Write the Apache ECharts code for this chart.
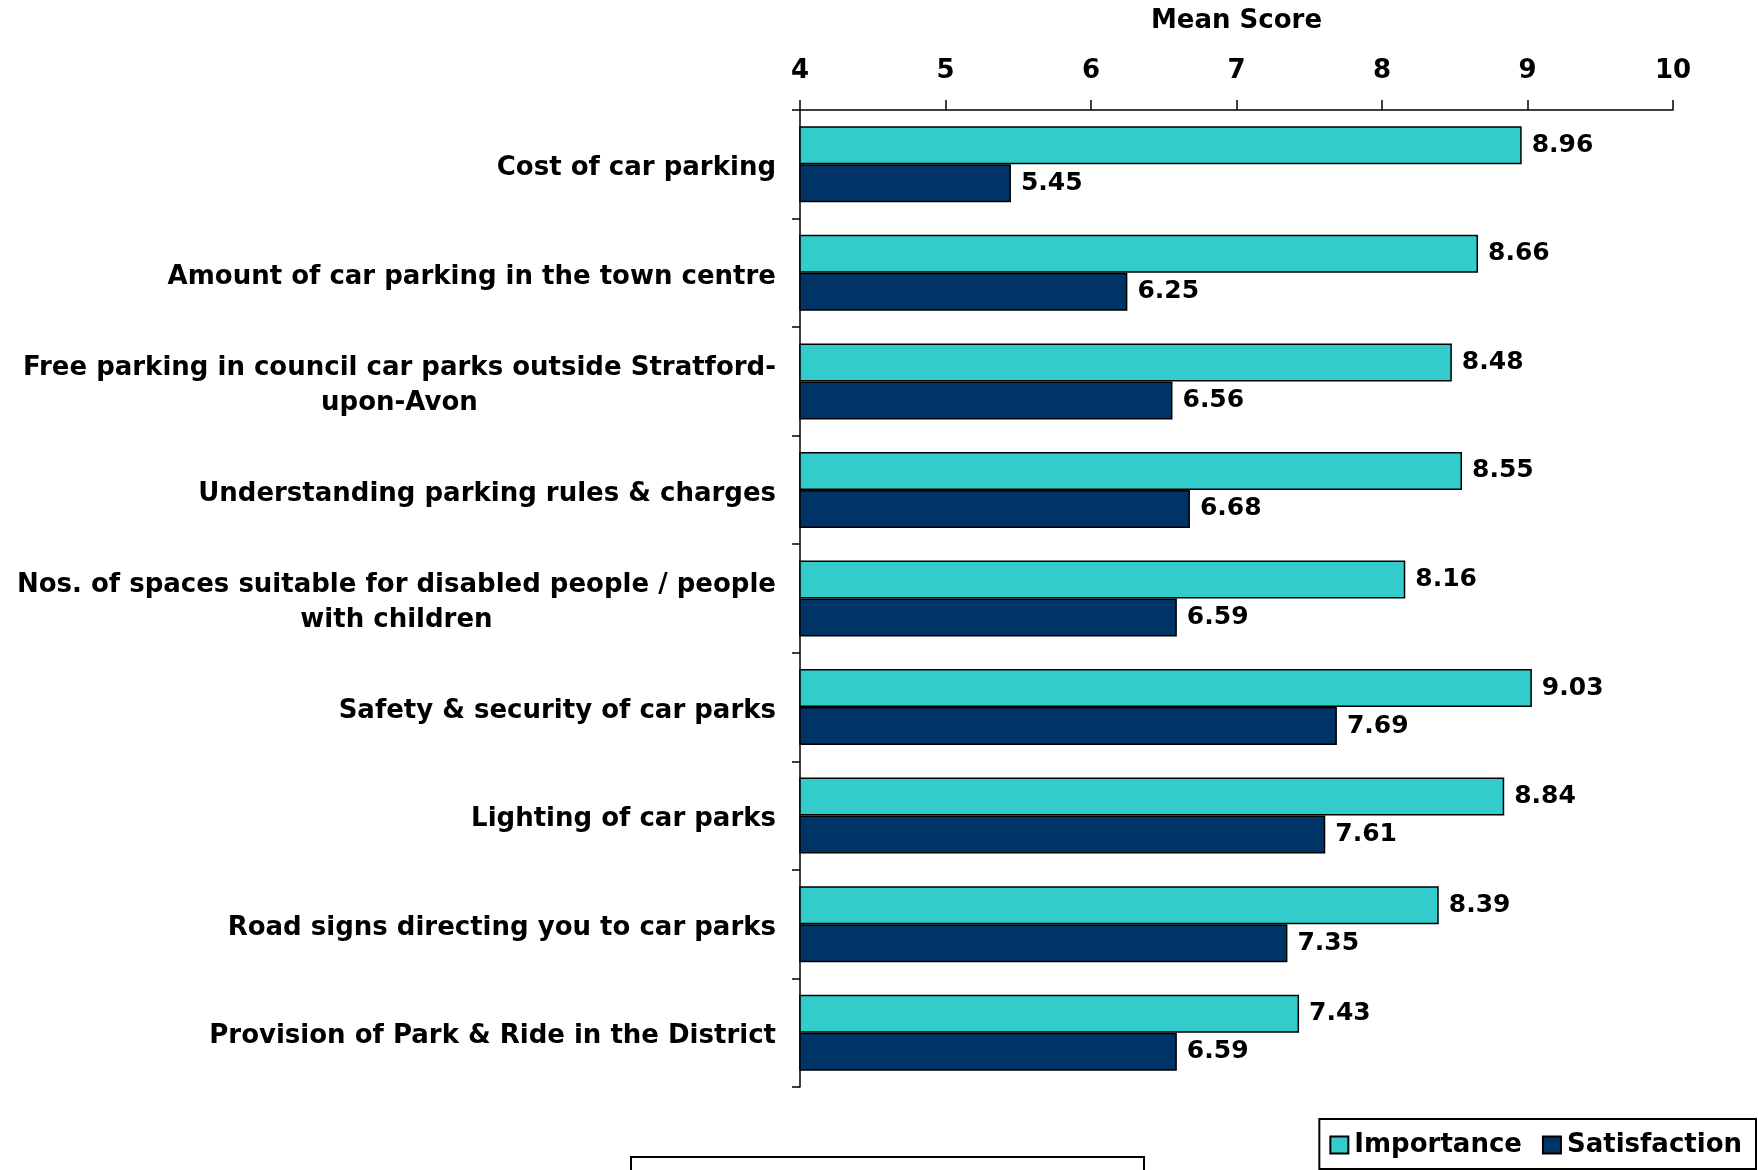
<!DOCTYPE html>
<html>
<head>
<meta charset="utf-8">
<script src="https://cdn.jsdelivr.net/npm/echarts@6/dist/echarts.min.js"></script>
<style>
  html, body { margin: 0; padding: 0; background: #fff; }
  #chart { width: 1758px; height: 1170px; }
</style>
</head>
<body>
<div id="chart"></div>
<script>
// Parking survey: mean importance vs satisfaction scores
const categories = [
  'Cost of car parking',
  'Amount of car parking in the town centre',
  'Free parking in council car parks outside Stratford-\nupon-Avon',
  'Understanding parking rules & charges',
  'Nos. of spaces suitable for disabled people / people\nwith children',
  'Safety & security of car parks',
  'Lighting of car parks',
  'Road signs directing you to car parks',
  'Provision of Park & Ride in the District'
];
const importance   = [8.96, 8.66, 8.48, 8.55, 8.16, 9.03, 8.84, 8.39, 7.43];
const satisfaction = [5.45, 6.25, 6.56, 6.68, 6.59, 7.69, 7.61, 7.35, 6.59];
const axisTicks = [4, 5, 6, 7, 8, 9, 10];

const FONT = '"DejaVu Sans", Verdana, sans-serif';
const chart = echarts.init(document.getElementById('chart'), null, { renderer: 'canvas' });

const labelStyle = {
  show: true,
  position: 'right',
  distance: 10,
  color: '#000',
  fontFamily: FONT,
  fontWeight: 'bold',
  fontSize: 25,
  formatter: p => p.value.toFixed(2)
};

chart.setOption({
  animation: false,
  backgroundColor: '#fff',
  textStyle: { fontFamily: FONT },
  grid: { left: 800, right: 85, top: 110, bottom: 83, outerBoundsMode: 'none', containLabel: false },
  xAxis: {
    type: 'value',
    position: 'top',
    min: axisTicks[0],
    max: axisTicks[axisTicks.length - 1],
    interval: 1,
    name: 'Mean Score',
    nameLocation: 'middle',
    nameGap: 76,
    nameTextStyle: { color: '#000', fontWeight: 'bold', fontSize: 26, fontFamily: FONT },
    axisLine: { show: true, lineStyle: { color: '#000', width: 1.5 } },
    axisTick: { show: true, inside: false, length: 10, lineStyle: { color: '#000', width: 1.5 } },
    axisLabel: { color: '#000', fontWeight: 'bold', fontSize: 26, fontFamily: FONT, margin: 26 },
    splitLine: { show: false }
  },
  yAxis: {
    type: 'category',
    inverse: true,
    data: categories,
    axisLine: { show: true, lineStyle: { color: '#000', width: 1.5 } },
    axisTick: { show: true, length: 8, alignWithLabel: false, lineStyle: { color: '#000', width: 1.5 } },
    axisLabel: {
      margin: 24,
      padding: [8, 0, 0, 0],
      color: '#000',
      fontWeight: 'bold',
      fontSize: 26,
      fontFamily: FONT,
      lineHeight: 35,
      formatter: v => v.split('\n').map(s => '{c|' + s + '}').join('\n'),
      rich: { c: { align: 'center', fontWeight: 'bold', fontSize: 26, fontFamily: FONT, color: '#000', lineHeight: 35 } }
    }
  },
  legend: {
    show: true,
    right: 2,
    top: 1119,
    orient: 'horizontal',
    icon: 'rect',
    itemWidth: 18,
    itemHeight: 17,
    itemGap: 20,
    padding: [13, 14, 11, 10],
    borderColor: '#000',
    borderWidth: 2,
    textStyle: { color: '#000', fontWeight: 'bold', fontSize: 26, fontFamily: FONT, padding: [0, 0, 0, 1] },
    data: ['Importance', 'Satisfaction']
  },
  graphic: [{
    type: 'rect',
    shape: { x: 631, y: 1157, width: 513, height: 30 },
    style: { fill: '#fff', stroke: '#000', lineWidth: 2 }
  }],
  series: [
    {
      name: 'Importance',
      type: 'bar',
      data: importance,
      barGap: '0%',
      barCategoryGap: '30%',
      itemStyle: { color: '#33CCCC', borderColor: '#000', borderWidth: 1.5 },
      label: labelStyle
    },
    {
      name: 'Satisfaction',
      type: 'bar',
      data: satisfaction,
      itemStyle: { color: '#003366', borderColor: '#000', borderWidth: 1.5 },
      label: labelStyle
    }
  ]
});
</script>
</body>
</html>
